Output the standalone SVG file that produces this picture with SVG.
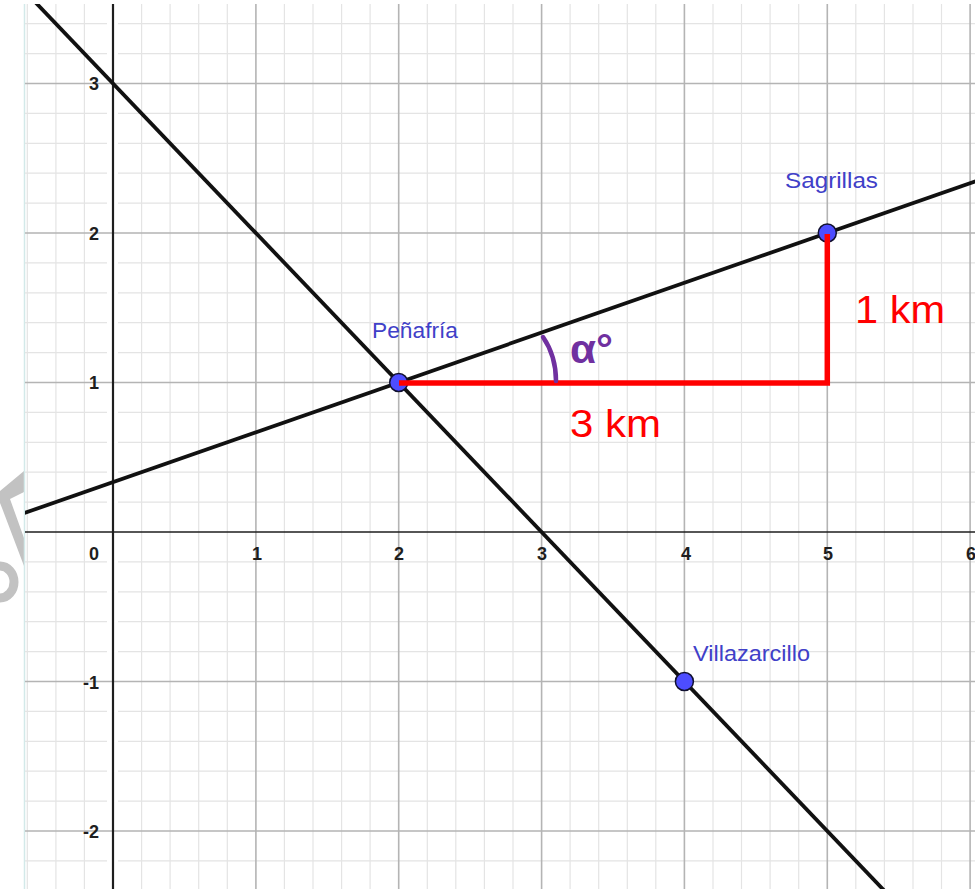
<svg xmlns="http://www.w3.org/2000/svg" width="975" height="889" viewBox="0 0 975 889">
  <style>
    .minor { stroke: #e4e4e4; stroke-width: 1.2; fill: none; }
    .major { stroke: #b4b4b4; stroke-width: 1.6; fill: none; }
    .axis { stroke: #1e1e1e; fill: none; }
    .num { font-family: "Liberation Sans", Arial, sans-serif; font-size: 18px; fill: #1e1e1e; font-weight: bold; }
    .ln { stroke: #111; stroke-width: 3.8; fill: none; }
    .pt { fill: #4d4dff; stroke: #101030; stroke-width: 1.5; }
    .lbl { font-family: "Liberation Sans", Arial, sans-serif; font-size: 22px; fill: #4040c8; }
    .red { font-family: "Liberation Sans", Arial, sans-serif; font-size: 38px; fill: #ff0000; }
  </style>
  <defs>
    <clipPath id="area"><rect x="25" y="4" width="950" height="885"/></clipPath>
  </defs>
  <rect x="0" y="0" width="975" height="889" fill="#ffffff"/>
  <!-- watermark fragment -->
  <g id="watermark" fill="#c2c2c2">
    <polygon points="24,471 24,492 10,499 24,538 24,566 2,508 0,503 0,491"/>
    <path d="M 0 566 A 14 16 0 0 1 0 598" fill="none" stroke="#c2c2c2" stroke-width="9"/>
  </g>
  <line x1="24.5" y1="4" x2="24.5" y2="889" stroke="#d3e9e9" stroke-width="1.5"/>
  <g id="grid" clip-path="url(#area)">
    <path class="minor" d="M27.3 4V889M55.9 4V889M84.4 4V889M141.6 4V889M170.1 4V889M198.7 4V889M227.3 4V889M284.4 4V889M313 4V889M341.6 4V889M370.1 4V889M427.3 4V889M455.8 4V889M484.4 4V889M513 4V889M570.1 4V889M598.7 4V889M627.3 4V889M655.8 4V889M713 4V889M741.5 4V889M770.1 4V889M798.7 4V889M855.8 4V889M884.4 4V889M913 4V889M941.5 4V889"/>
    <path class="minor" d="M25 23.7H107M118 23.7H975M25 53.6H107M118 53.6H975M25 113.4H107M118 113.4H975M25 143.3H107M118 143.3H975M25 173.2H107M118 173.2H975M25 203.1H107M118 203.1H975M25 262.9H107M118 262.9H975M25 292.8H107M118 292.8H975M25 322.7H107M118 322.7H975M25 352.6H107M118 352.6H975M25 412.4H107M118 412.4H975M25 442.3H107M118 442.3H975M25 472.2H107M118 472.2H975M25 502.1H107M118 502.1H975M25 561.9H107M118 561.9H975M25 591.8H107M118 591.8H975M25 621.7H107M118 621.7H975M25 651.6H107M118 651.6H975M25 711.4H107M118 711.4H975M25 741.3H107M118 741.3H975M25 771.2H107M118 771.2H975M25 801.1H107M118 801.1H975M25 860.9H107M118 860.9H975"/>
    <path class="major" d="M255.9 4V889M398.7 4V889M541.6 4V889M684.4 4V889M827.3 4V889M970.1 4V889M25 83.5H975M25 233H975M25 382.5H975M25 681.5H975M25 831H975"/>
    <line class="axis" x1="25" y1="532" x2="975" y2="532" stroke-width="1.6"/>
    <line class="axis" x1="113" y1="4" x2="113" y2="889" stroke-width="2.2"/>
  </g>
  <g id="axis-labels">
    <text class="num" x="257" y="560" text-anchor="middle">1</text>
    <text class="num" x="399" y="560" text-anchor="middle">2</text>
    <text class="num" x="542" y="560" text-anchor="middle">3</text>
    <text class="num" x="686" y="560" text-anchor="middle">4</text>
    <text class="num" x="828" y="560" text-anchor="middle">5</text>
    <text class="num" x="971" y="560" text-anchor="middle">6</text>
    <text class="num" x="99" y="560" text-anchor="end">0</text>
    <text class="num" x="99" y="90" text-anchor="end">3</text>
    <text class="num" x="99" y="240" text-anchor="end">2</text>
    <text class="num" x="99" y="389" text-anchor="end">1</text>
    <text class="num" x="99" y="689" text-anchor="end">-1</text>
    <text class="num" x="99" y="838" text-anchor="end">-2</text>
  </g>
  <g id="connectors" clip-path="url(#area)">
    <line id="line-decreasing" class="ln" x1="27.3" y1="-6.2" x2="898.7" y2="905.75"/>
    <line id="line-increasing" class="ln" x1="13" y1="517" x2="998.7" y2="173.2"/>
  </g>
  <g id="Penafria">
    <circle class="pt" cx="398.7" cy="382.5" r="9"/>
    <text class="lbl" x="372" y="338" textLength="86" lengthAdjust="spacingAndGlyphs">Peñafría</text>
  </g>
  <g id="Sagrillas">
    <circle class="pt" cx="827.3" cy="233" r="9"/>
    <text class="lbl" x="785" y="188" textLength="93" lengthAdjust="spacingAndGlyphs">Sagrillas</text>
  </g>
  <g id="Villazarcillo">
    <circle class="pt" cx="684.4" cy="681.5" r="9"/>
    <text class="lbl" x="693" y="661" textLength="117" lengthAdjust="spacingAndGlyphs">Villazarcillo</text>
  </g>
  <g id="triangle">
    <polyline points="399,383 827.3,383 827.3,234" fill="none" stroke="#ff0000" stroke-width="5.5"/>
    <text class="red" x="570" y="437" textLength="91" lengthAdjust="spacingAndGlyphs">3 km</text>
    <text class="red" x="855" y="323" textLength="90" lengthAdjust="spacingAndGlyphs">1 km</text>
  </g>
  <g id="angle">
    <path d="M 543 337 Q 556 356 556 381" fill="none" stroke="#7030a0" stroke-width="4.5" stroke-linecap="round"/>
    <text x="570" y="363" font-family="Liberation Sans, Arial, sans-serif" font-size="40" font-weight="bold" fill="#7030a0" textLength="43" lengthAdjust="spacingAndGlyphs">α°</text>
  </g>
</svg>
